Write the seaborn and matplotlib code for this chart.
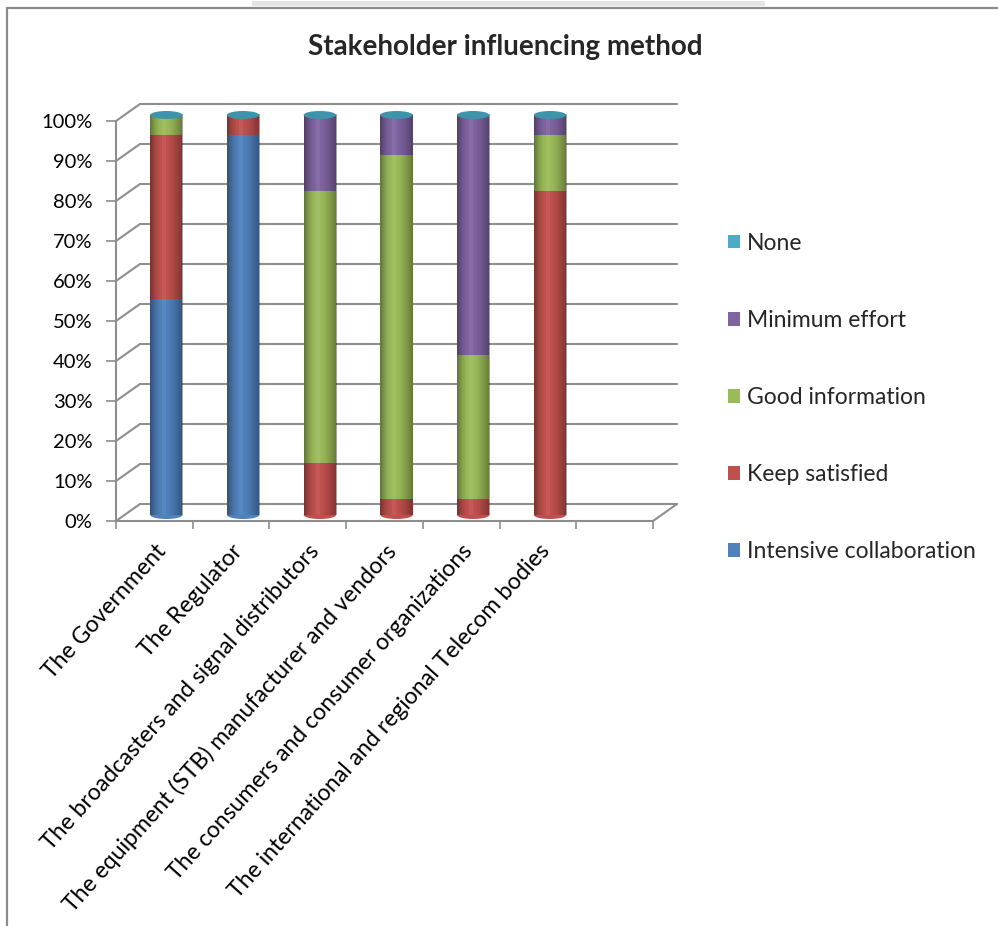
import numpy as np
import pandas as pd
import matplotlib
matplotlib.use("Agg")
import matplotlib.pyplot as plt
import matplotlib.transforms as mtransforms
from matplotlib.patches import Ellipse, Rectangle
from matplotlib.lines import Line2D
import seaborn as sns

# ---- data -------------------------------------------------------------
categories = [
    "The Government",
    "The Regulator",
    "The broadcasters and signal distributors",
    "The equipment (STB) manufacturer and vendors",
    "The consumers and consumer organizations",
    "The international and regional Telecom bodies",
]
series_names = ["Intensive collaboration", "Keep satisfied", "Good information",
                "Minimum effort", "None"]
intensive_collaboration = [54, 95, 0, 0, 0, 0]
keep_satisfied = [41, 5, 13, 4, 4, 81]
good_information = [5, 0, 68, 86, 36, 14]
minimum_effort = [0, 0, 19, 10, 60, 5]
none_method = [0, 0, 0, 0, 0, 0]
series_colors = ["#4F81BD", "#C0504D", "#9BBB59", "#8064A2", "#4BACC6"]
y_ticks = [0, 10, 20, 30, 40, 50, 60, 70, 80, 90, 100]
y_tick_labels = [f"{v}%" for v in y_ticks]
title = "Stakeholder influencing method"

series_values = [intensive_collaboration, keep_satisfied, good_information,
                 minimum_effort, none_method]

# ---- style ------------------------------------------------------------
sns.set_style("white")
plt.rcParams["font.family"] = ["Lato", "DejaVu Sans"]

W, H = 998, 926
fig = plt.figure(figsize=(W / 100, H / 100), dpi=100)
fig.patch.set_facecolor("white")

# front face of the 3-D frame (pixel geometry)
left_px, right_px, top_px, bottom_px = 116, 653, 121, 521
ax = fig.add_axes([left_px / W, 1 - bottom_px / H,
                   (right_px - left_px) / W, (bottom_px - top_px) / H])
n_slots = 7
px_x = (right_px - left_px) / n_slots
px_y = (bottom_px - top_px) / 100.0

grey = "#8e8e8e"


def shift(dx_px, dy_px):
    return ax.transData + mtransforms.ScaledTranslation(dx_px / 100, dy_px / 100,
                                                        fig.dpi_scale_trans)


back_dx, back_dy = 24, 17
back_trans = shift(back_dx, back_dy)
bar_trans = shift(12, 6)

# ---- stacked cylinders -------------------------------------------------
bar_w = 0.42
df = pd.DataFrame({"category": categories})
bottom = np.zeros(len(categories))
for name, vals, col in zip(series_names, series_values, series_colors):
    df["value"] = vals
    sns.barplot(data=df, x="category", y="value", color=col, saturation=1,
                width=bar_w, bottom=bottom.copy(), errorbar=None, linewidth=0,
                label=name, ax=ax, order=categories)
    bottom += np.array(vals)
totals = bottom

for p in ax.patches:
    p.set_transform(bar_trans)
    p.set_clip_on(False)
    p.set_zorder(2)

# cylinder shading across each column
t = np.linspace(0, 1, 80)
shade = np.zeros((1, t.size, 4))
for j, tt in enumerate(t):
    if tt < 0.35:
        a = 0.38 * ((0.35 - tt) / 0.35) ** 1.6
        shade[0, j] = [0, 0, 0, a]
    elif tt < 0.5:
        shade[0, j] = [1, 1, 1, 0.06]
    else:
        a = 0.36 * ((tt - 0.5) / 0.5) ** 1.4
        shade[0, j] = [0, 0, 0, a]

ell_h = 8 / px_y
for i, tot in enumerate(totals):
    if tot <= 0:
        continue
    first = next(k for k, v in enumerate(series_values) if v[i] > 0)
    base = Ellipse((i, 0), bar_w, ell_h, facecolor=series_colors[first],
                   edgecolor="none", transform=bar_trans, zorder=1.8, clip_on=False)
    ax.add_patch(base)
    ax.imshow(shade, extent=[i - bar_w / 2, i + bar_w / 2, 0, tot], aspect="auto",
              transform=bar_trans, zorder=2.5, interpolation="bilinear",
              clip_on=False)
    cap = Ellipse((i, tot), bar_w, ell_h, facecolor="#3e94ab",
                  edgecolor="none", transform=bar_trans, zorder=3, clip_on=False)
    ax.add_patch(cap)

# ---- 3-D frame: back wall gridlines, side obliques, floor --------------
dxd, dyd = back_dx / px_x, back_dy / px_y
for v in y_ticks:
    ax.plot([-0.5, 6.5], [v, v], color=grey, lw=1.5, transform=back_trans,
            zorder=0.5, clip_on=False)
    ax.plot([-0.5, -0.5 + dxd], [v, v + dyd], color=grey, lw=1.5,
            zorder=0.5, clip_on=False)
ax.plot([6.5, 6.5 + dxd], [0, dyd], color=grey, lw=1.5, zorder=0.5, clip_on=False)

ax.set_xlim(-0.5, 6.5)
ax.set_ylim(0, 100)

for s in ["top", "right"]:
    ax.spines[s].set_visible(False)
for s in ["left", "bottom"]:
    ax.spines[s].set_color(grey)
    ax.spines[s].set_linewidth(1.5)

ax.set_yticks(y_ticks)
ax.set_yticklabels(y_tick_labels, fontsize=14.5, color="black")
ax.tick_params(axis="y", direction="out", length=7, width=1.2, color=grey, pad=10,
               left=True)

ax.set_xticks(range(len(categories)))
ax.set_xticklabels(categories, rotation=48, ha="right", va="top",
                   rotation_mode="anchor", fontsize=16.6, color="black")
ax.set_xticks(np.arange(-0.5, 7.0, 1.0), minor=True)
ax.tick_params(axis="x", which="major", length=0, pad=14, bottom=True)
ax.tick_params(axis="x", which="minor", direction="out", length=6, width=1.2,
               color=grey, bottom=True)
ax.set_xlabel("")
ax.set_ylabel("")
ax.grid(False)
ax.set_facecolor("none")

# ---- legend ------------------------------------------------------------
handles, labels = ax.get_legend_handles_labels()
ax.legend(handles[::-1], labels[::-1], loc="upper left",
          bbox_to_anchor=(707 / W, 1 - 212 / H), bbox_transform=fig.transFigure,
          frameon=False, fontsize=16.5, labelspacing=2.45, handlelength=0.55,
          handleheight=0.55, handletextpad=0.3)

# ---- title and chart border -------------------------------------------
fig.text(505 / W, 1 - 47 / H, title, ha="center", va="center",
         fontsize=20, fontweight="bold")
fig.add_artist(Line2D([7 / W, 7 / W], [0, 1 - 8 / H], color="#8a8a8a", lw=1.6,
                      transform=fig.transFigure))
fig.add_artist(Line2D([7 / W, 1], [1 - 8 / H, 1 - 8 / H], color="#8a8a8a", lw=1.6,
                      transform=fig.transFigure))
fig.add_artist(Rectangle((252 / W, 1 - 6 / H), (765 - 252) / W, 5 / H,
                         facecolor="#e4e4e4", edgecolor="none",
                         transform=fig.transFigure))

fig.savefig("out.png", dpi=100)
